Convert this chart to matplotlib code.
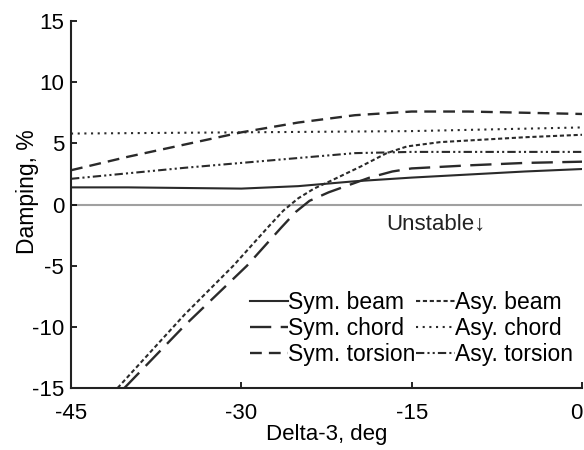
import matplotlib
matplotlib.use("Agg")
import matplotlib.pyplot as plt

plt.rcParams["font.family"] = ["Liberation Sans", "DejaVu Sans"]
plt.rcParams["axes.unicode_minus"] = False

# delta-3 (deg) and damping (%)
x_sb = [-45, -40, -35, -30, -25, -20, -15, -10, -5, 0]
y_sb = [1.4, 1.4, 1.35, 1.3, 1.5, 1.9, 2.2, 2.45, 2.7, 2.9]

x_sc = [-40.3, -35, -29.5, -26.5, -25.2, -24, -22.3, -20.5, -18.7, -16.7,
        -15, -10, -5, 0]
y_sc = [-15, -9.9, -5, -1.9, -0.6, 0.3, 1.0, 1.6, 2.2, 2.7, 2.95, 3.2,
        3.4, 3.5]

x_st = [-45, -40, -35, -30, -25, -20, -15, -10, -5, 0]
y_st = [2.8, 3.9, 4.9, 5.9, 6.7, 7.3, 7.6, 7.6, 7.5, 7.4]

x_ab = [-40.9, -35, -30.7, -27.6, -26.3, -25, -23.6, -22.2, -19.5, -17.2,
        -15.4, -12.5, -5, 0]
y_ab = [-15, -9.0, -5, -1.8, -0.5, 0.5, 1.3, 1.9, 3.1, 4.2, 4.75, 5.1,
        5.5, 5.7]

x_ac = [-45, -30, -15, 0]
y_ac = [5.8, 5.9, 6.0, 6.3]

x_at = [-45, -35, -30, -25, -20, -15, -10, 0]
y_at = [2.1, 3.0, 3.4, 3.8, 4.2, 4.3, 4.3, 4.3]

xticks = [-45, -30, -15, 0]
yticks = [-15, -10, -5, 0, 5, 10, 15]

fig = plt.figure(figsize=(5.84, 4.5), dpi=100)
ax = fig.add_axes([0.1216, 0.1378, 0.875, 0.8155])

ax.axhline(0, color="#a0a0a0", lw=1.5, zorder=1)

c = "#2a2a2a"
ax.plot(x_sb, y_sb, color=c, lw=1.5, ls="-", label="Sym. beam")
ax.plot(x_sc, y_sc, color=c, lw=1.7, dashes=(9, 4), label="Sym. chord")
ax.plot(x_st, y_st, color=c, lw=1.7, dashes=(5, 3), label="Sym. torsion")
ax.plot(x_ab, y_ab, color=c, lw=1.5, dashes=(2, 1.3), label="Asy. beam")
ax.plot(x_ac, y_ac, color=c, lw=1.5, dashes=(1, 2.2), label="Asy. chord")
ax.plot(x_at, y_at, color=c, lw=1.5, dashes=(4, 1.5, 1, 1.5, 1, 1.5),
        label="Asy. torsion")

ax.text(-12.9, -1.6, "Unstable\u2193", fontsize=16, ha="center", va="center",
        color="#222")

ax.set_xlim(-45, 0)
ax.set_ylim(-15, 15)
ax.set_xticks(xticks)
ax.set_yticks(yticks)
ax.tick_params(direction="in", length=4, width=1.2, labelsize=16)
ax.tick_params(axis="x", pad=11)
ax.tick_params(axis="y", pad=5)
ax.get_xticklabels()[-1].set_horizontalalignment("right")
for s in ["top", "right"]:
    ax.spines[s].set_visible(False)
for s in ["left", "bottom"]:
    ax.spines[s].set_linewidth(1.5)
    ax.spines[s].set_color("#222")

ax.set_xlabel("Delta-3, deg", fontsize=16, labelpad=0)
ax.set_ylabel("Damping, %", fontsize=16.5)
ax.yaxis.set_label_coords(-0.063, 0.534)

ax.legend(ncol=2, frameon=False, fontsize=16.5, loc="lower right",
          bbox_to_anchor=(0.982, 0.061), handlelength=1.7, handletextpad=0.0,
          columnspacing=0.0, labelspacing=0.12, borderpad=0.0,
          borderaxespad=0.0)

fig.savefig("out.png", dpi=100)
